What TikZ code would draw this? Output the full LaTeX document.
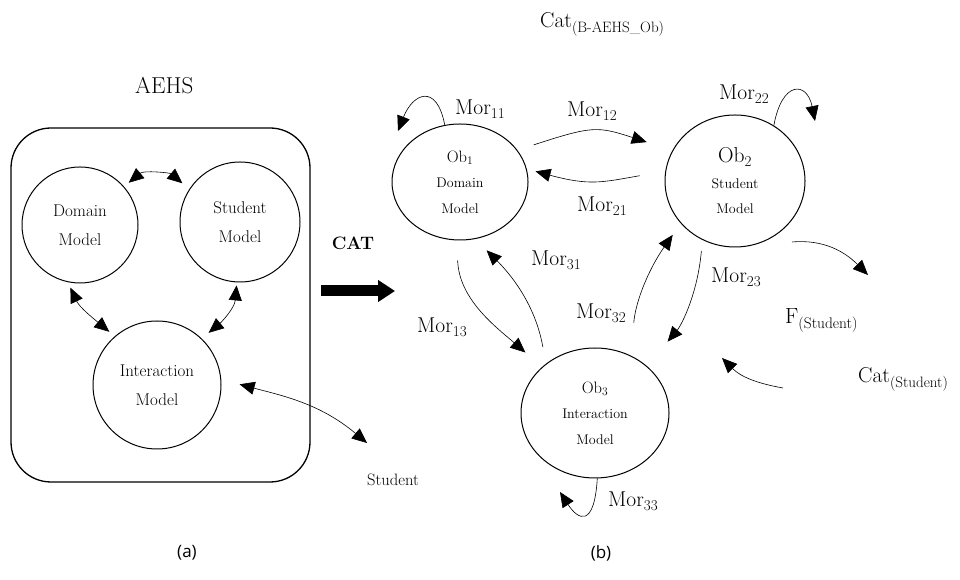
\documentclass[tikz,border=0pt]{standalone}
\usepackage{fontspec}
\newfontfamily\capfont{Open Sans}
\usetikzlibrary{arrows.meta, shapes.geometric}

\tikzset{
    obj/.style={circle, draw, line width=1pt, inner sep=0pt, align=center,
        font=\fontsize{17}{29}\selectfont},
    cobj/.style={ellipse, draw, line width=1pt, inner sep=0pt, align=center,
        font=\fontsize{14}{25.5}\selectfont},
    mor/.style={-{Triangle[length=15pt,width=13pt]}, line width=0.6pt},
    bimor/.style={{Triangle[length=15pt,width=13pt]}-{Triangle[length=15pt,width=13pt]},
        line width=0.6pt},
    lbl/.style={anchor=base west, inner sep=0pt, font=\fontsize{21.5}{25}\selectfont},
}

\begin{document}
\begin{tikzpicture}[x=1pt, y=1pt]
        \useasboundingbox (0, 0) rectangle (960, 580);
        \node[draw, rounded corners=40pt, line width=1.3pt, minimum width=299pt,
            minimum height=354pt] (aehs) at (160.5, 275) {};
        \node[anchor=base west, inner sep=0pt, font=\fontsize{23}{27}\selectfont]
            (aehslbl) at (135, 486) {AEHS};
        \node[obj, minimum size=116pt] (dom) at (80, 355) {Domain\\Model};
        \node[obj, minimum size=120pt] (stu) at (240, 358) {Student\\Model};
        \node[obj, minimum size=128pt] (inter) at (157, 195) {Interaction\\Model};
        \node[anchor=base west, inner sep=0pt, font=\fontsize{16.5}{20}\selectfont]
            (student) at (367, 94) {Student};
        \coordinate (stuend) at (367, 137);
        \draw[bimor, shorten <=6pt, shorten >=9pt] (dom.41) to[out=40, in=140] (stu.147);
        \draw[bimor, shorten <=6pt, shorten >=7pt] (dom.-102) to[out=-65, in=140] (inter.131);
        \draw[bimor, shorten <=3pt, shorten >=9pt] (stu.-93) to[out=-95, in=40] (inter.46);
        \draw[bimor, shorten <=19pt] (inter.5) to[out=-15, in=140] (stuend);

        \node[font=\bfseries\fontsize{18}{22}\selectfont] (cat) at (353, 337) {CAT};
        \coordinate (cata) at (321, 289);
        \coordinate (catz) at (395, 289);
        \draw[line width=11pt, -{Triangle[length=17pt,width=21pt]}] (cata) -- (catz);

        \node[lbl] (catlbl) at (540, 552) {Cat\textsubscript{(B-AEHS\_Ob)}};
        \node[cobj, minimum width=136pt, minimum height=116pt] (ob1) at (460, 398)
            {{\fontsize{16.5}{19}\selectfont Ob\textsubscript{1}}\\Domain\\Model};
        \node[cobj, minimum width=140pt, minimum height=132pt] (ob2) at (735, 399)
            {{\fontsize{21.5}{24}\selectfont Ob\textsubscript{2}}\\Student\\Model};
        \node[cobj, minimum width=148pt, minimum height=130pt] (ob3) at (595, 167)
            {{\fontsize{16.5}{19}\selectfont Ob\textsubscript{3}}\\Interaction\\Model};

        \coordinate (t11) at (398, 449);
        \coordinate (t22) at (815, 459);
        \coordinate (t33) at (560, 88);
        \draw[mor] (ob1.105) .. controls +(-8, 42) and +(15, 38) .. (t11);
        \draw[mor] (ob2.55) .. controls +(8, 45) and +(-8, 40) .. (t22);
        \draw[mor] (ob3.-88) .. controls +(-3, -50) and +(18, -28) .. (t33);
        \node[lbl] (m11) at (455, 465) {Mor\textsubscript{11}};
        \node[lbl] (m22) at (719, 480) {Mor\textsubscript{22}};
        \node[lbl] (m33) at (608, 73) {Mor\textsubscript{33}};

        \draw[mor, shorten <=17pt, shorten >=27pt] (ob1.29) to[out=18, in=162, looseness=1.3] (ob2.154);
        \draw[mor, shorten <=26pt, shorten >=9pt] (ob2.172) to[out=-170, in=-15, looseness=1.2] (ob1.11);
        \draw[mor, shorten <=20pt, shorten >=22pt] (ob1.-93) to[out=-88, in=139] (ob3.139);
        \draw[mor, shorten <=17pt, shorten >=16pt] (ob3.135) to[out=100, in=-45] (ob1.-75);
        \draw[mor, shorten <=11pt, shorten >=32pt] (ob2.-119) to[out=-95, in=50] (ob3.42);
        \draw[mor, shorten <=33pt, shorten >=14pt] (ob3.58) to[out=85, in=-125] (ob2.-142);
        \node[lbl] (m12) at (567, 463) {Mor\textsubscript{12}};
        \node[lbl] (m21) at (577, 368) {Mor\textsubscript{21}};
        \node[lbl] (m31) at (531, 314) {Mor\textsubscript{31}};
        \node[lbl] (m13) at (417, 247) {Mor\textsubscript{13}};
        \node[lbl] (m23) at (711, 297) {Mor\textsubscript{23}};
        \node[lbl] (m32) at (576, 261) {Mor\textsubscript{32}};

        \coordinate (fs) at (792, 338);
        \coordinate (ft) at (868, 305);
        \draw[mor] (fs) to[out=5, in=135] (ft);
        \node[lbl, font=\fontsize{22}{26}\selectfont] (fstu) at (785, 256) {F\textsubscript{(Student)}};
        \coordinate (cs) at (783, 192);
        \coordinate (ct) at (722, 222);
        \draw[mor] (cs) to[out=170, in=-45] (ct);
        \node[lbl] (catstu) at (858, 197) {Cat\textsubscript{(Student)}};

        \node[font=\capfont\fontsize{17}{20}\selectfont] (capa) at (187, 27) {(a)};
        \node[font=\capfont\fontsize{17}{20}\selectfont] (capb) at (601, 27) {(b)};
    \end{tikzpicture}
\end{document}
